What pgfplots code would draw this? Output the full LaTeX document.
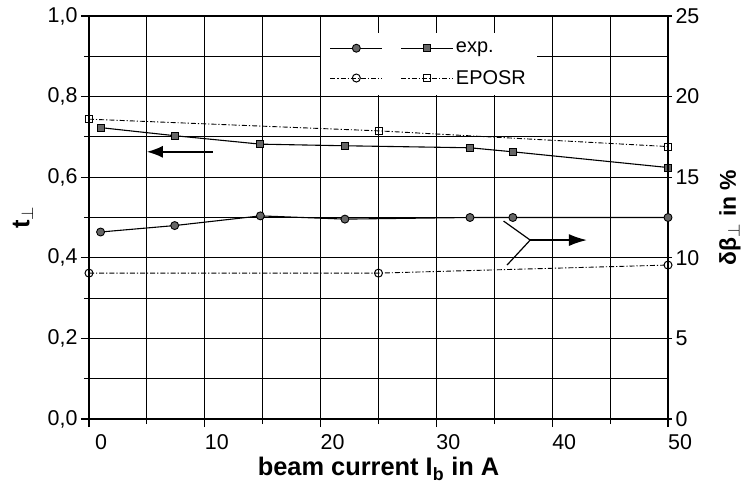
\documentclass[border=0pt]{standalone}
\usepackage{fontspec}
\setmainfont{Liberation Sans}
\usepackage{pgfplots}
\pgfplotsset{compat=1.18}
\usetikzlibrary{arrows.meta}

\newcommand{\tickfont}{\fontsize{21.5}{25}\selectfont}
\newcommand{\legfont}{\fontsize{20}{24}\selectfont}
\newcommand{\labfont}{\fontsize{25.5}{30}\selectfont}

\pgfplotsset{
  twin/.style={
    width=579bp, height=403bp, scale only axis,
    xmin=0, xmax=50,
    tick label style={font=\tickfont},
    /pgf/number format/assume math mode=true,
  },
  expline/.style={black, solid, line width=1.1bp},
  eposrline/.style={black, line width=0.9bp,
    dash pattern=on 5bp off 2bp on 1.2bp off 2bp},
  expcirc/.style={mark=*, mark size=4bp,
    mark options={solid, fill=black!60, draw=black, line width=0.9bp}},
  expsq/.style={mark=square*, mark size=3.5bp,
    mark options={solid, fill=black!60, draw=black, line width=0.9bp}},
  eposrcirc/.style={mark=o, mark size=4bp,
    mark options={solid, fill=white, draw=black, line width=1bp}},
  eposrsq/.style={mark=square, mark size=3.5bp,
    mark options={solid, fill=white, draw=black, line width=1bp}},
}

\begin{document}
\begin{tikzpicture}
% left axis: transmission t_perp, carries the grid
\begin{axis}[
  twin, name=main,
  ymin=0, ymax=1,
  xtick={0,10,...,50}, minor xtick={5,15,...,45},
  ytick={0,0.2,...,1.0}, minor ytick={0.1,0.3,...,0.9},
  xtick pos=left, ytick pos=left,
  tick align=outside,
  major tick length=8bp, minor tick length=5bp,
  grid=both,
  major grid style={black, line width=1bp},
  minor grid style={black, line width=1bp},
  axis line style={line width=1.4bp},
  tick style={black, line width=1.1bp},
  xticklabel style={xshift=12bp, yshift=-4bp},
  yticklabel style={/pgf/number format/.cd, use comma, fixed, fixed zerofill, precision=1},
  xlabel={beam current I\textsubscript{b} in A},
  ylabel={t$_{\perp}$},
  every axis x label/.style={at={(axis description cs:0.5,-0.1414)}, anchor=base, font=\bfseries\labfont},
  every axis y label/.style={at={(axis description cs:-0.114,0.5)}, rotate=90, anchor=center, font=\bfseries\labfont},
]
\addplot[expline, expsq] coordinates {
  (1,0.723) (7.4,0.703) (14.8,0.682) (22.1,0.678) (32.9,0.673) (36.6,0.663) (50,0.624)
};
\addplot[eposrline, eposrsq] coordinates {
  (0,0.744) (25,0.715) (50,0.676)
};
% arrow pointing to the left scale
\draw[line width=1.5bp, -{Latex[length=16bp,width=12bp]}]
  (axis cs:10.7,0.663) -- (axis cs:5.0,0.663);
\end{axis}

% right axis: emittance growth in percent
\begin{axis}[
  twin,
  axis x line=none,
  axis y line*=right,
  ymin=0, ymax=25,
  ytick={0,5,...,25},
  tick align=outside,
  major tick length=4bp,
  axis line style={line width=1.4bp},
  tick style={black, line width=1.1bp},
  ylabel={δβ$_{\perp}$ in \%},
  every axis y label/.style={at={(axis description cs:1.107,0.5)}, rotate=90, anchor=center, font=\bfseries\fontsize{23}{27}\selectfont},
  legend columns=2,
  transpose legend,
  legend cell align=left,
  legend style={at={(axis description cs:0.40,0.958)}, anchor=north west,
    draw=none, fill=white, font=\legfont,
    inner xsep=9bp, inner ysep=7bp, row sep=12bp},
  legend image code/.code={%
    \draw[mark repeat=2, mark phase=2]
      plot coordinates {(0bp,0bp) (26bp,0bp) (52bp,0bp)};},
]
\addplot[expline, expcirc] coordinates {
  (1,11.6) (7.4,12.0) (14.8,12.6) (22.1,12.4) (32.9,12.5) (36.6,12.5) (50,12.5)
};
\addplot[eposrline, eposrcirc] coordinates {
  (0,9.05) (25,9.05) (50,9.55)
};
\addlegendimage{expline, expsq}
\addlegendimage{eposrline, eposrsq}
\legend{\hspace*{14bp}, \hspace*{14bp}, exp., EPOSR}
% fork arrow pointing to the right scale
\draw[line width=1.2bp] (axis cs:35.8,12.28) -- (axis cs:38.1,11.1) -- (axis cs:36.1,9.55);
\draw[line width=1.5bp, -{Latex[length=18bp,width=12bp]}]
  (axis cs:38.1,11.1) -- (axis cs:43.0,11.1);
\end{axis}

\pgfresetboundingbox
\useasboundingbox ([shift={(-89bp,-76bp)}]main.south west) rectangle ([shift={(661bp,419bp)}]main.south west);
\end{tikzpicture}
\end{document}
